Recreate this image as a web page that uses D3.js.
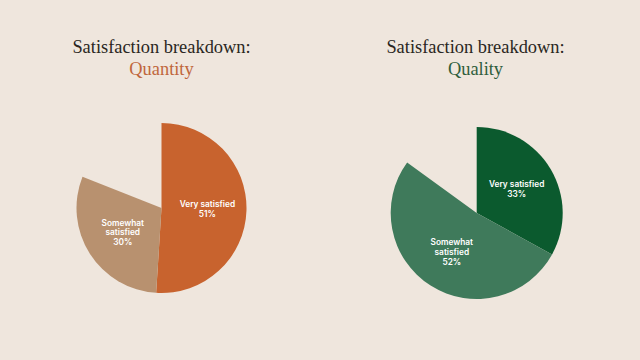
<!DOCTYPE html>
<html><head><meta charset="utf-8">
<script src="https://cdn.jsdelivr.net/npm/d3@7"></script>
<style>body{margin:0;background:#EFE6DD}svg{display:block}</style>
</head><body>
<script>
const titleLine1 = "Satisfaction breakdown:";
const chartNames = ["Quantity", "Quality"];
const categories = ["Very satisfied", "Somewhat satisfied"];
const quantityValues = [51, 30];
const qualityValues = [33, 52];

const W = 640, H = 360;
const svg = d3.select("body").append("svg").attr("width", W).attr("height", H);
svg.append("rect").attr("width", W).attr("height", H).attr("fill", "#EFE6DD");

const panels = [
  {name: chartNames[0], values: quantityValues, cx: 161.5, cy: 208, r: 85, colors: ["#C8632E", "#B8916F"], titleColor: "#C0663C", tx: 161.5},
  {name: chartNames[1], values: qualityValues, cx: 476.7, cy: 213, r: 86, colors: ["#0B5A2E", "#3F7A5B"], titleColor: "#2F5E3C", tx: 475.5}
];

const angle = d3.scaleLinear().domain([0, 100]).range([0, 2 * Math.PI]);

panels.forEach(p => {
  const g = svg.append("g");
  const t = g.append("text").attr("x", p.tx).attr("text-anchor", "middle")
    .attr("font-family", "Liberation Serif, serif").attr("font-size", 18.4);
  t.append("tspan").attr("x", p.tx).attr("y", 53).attr("fill", "#2A2622").text(titleLine1);
  t.append("tspan").attr("x", p.tx).attr("y", 75).attr("fill", p.titleColor).text(p.name);

  let cum = 0;
  const slices = p.values.map((v, i) => {
    const s = {startAngle: angle(cum), endAngle: angle(cum + v), value: v, cat: categories[i], color: p.colors[i]};
    cum += v;
    return s;
  });
  const arc = d3.arc().innerRadius(0).outerRadius(p.r);
  const labelArc = d3.arc().innerRadius(p.r * 1.08).outerRadius(p.r * 1.08);
  const pg = g.append("g").attr("transform", `translate(${p.cx},${p.cy})`);
  pg.selectAll("path").data(slices).join("path").attr("d", arc).attr("fill", d => d.color);

  slices.forEach(s => {
    const [x, y] = labelArc.centroid(s).map(v => v * 0.5);
    const words = s.cat === "Somewhat satisfied" ? ["Somewhat", "satisfied"] : [s.cat];
    const lines = words.concat([s.value + "%"]);
    const lh = 9.8;
    const y0 = y - (lines.length - 1) * lh / 2;
    const tt = pg.append("text").attr("text-anchor", "middle").attr("fill", "#fff")
      .attr("font-family", "Inter, Roboto, sans-serif").attr("font-weight", 600).attr("font-size", 8.3);
    lines.forEach((l, i) => tt.append("tspan").attr("x", x).attr("y", y0 + i * lh).attr("dy", "0.35em").text(l));
  });
});
</script>
</body></html>
